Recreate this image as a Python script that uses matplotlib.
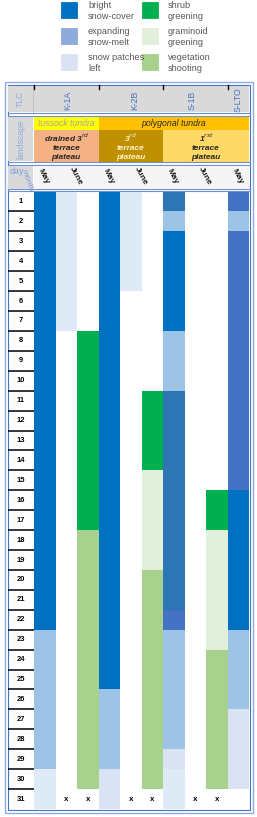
import matplotlib.pyplot as plt
from matplotlib.patches import Rectangle

# legend entries (label, colour)
legend_left = [("bright\nsnow-cover", "#0070C0"),
               ("expanding\nsnow-melt", "#8FAADC"),
               ("snow patches\nleft", "#DAE3F3")]
legend_right = [("shrub\ngreening", "#00B050"),
                ("graminoid\ngreening", "#E2EFDA"),
                ("vegetation\nshooting", "#A9D18E")]

# shades used in the bars
shade = {"snow": "#0070C0", "snow2": "#2E75B6", "snow3": "#4472C4",
         "melt": "#9DC3E6", "patch": "#DEEBF7", "patch2": "#DAE3F3",
         "shrub": "#00B050", "gram": "#E2EFDA", "veg": "#A9D18E"}

sites = ["K-1A", "K-2B", "S-1B", "S-LTO"]
site_cols = [(0, 3), (3, 6), (6, 9), (9, 10)]
month_labels = ["May", "June", "May", "June", "May", "June", "May"]
month_cols = [0, 1.5, 3, 4.5, 6, 7.5, 9]

# phases per column: (shade, first day, last day)
k1a_may = [("snow", 1, 22), ("melt", 23, 29), ("patch", 30, 31)]
k1a_june_a = [("patch", 1, 7)]
k1a_june_b = [("shrub", 8, 17), ("veg", 18, 30)]
k2b_may = [("snow", 1, 25), ("melt", 26, 29), ("patch2", 30, 31)]
k2b_june_a = [("patch", 1, 5)]
k2b_june_b = [("shrub", 11, 14), ("gram", 15, 19), ("veg", 20, 30)]
s1b_may = [("snow2", 1, 1), ("melt", 2, 2), ("snow", 3, 7), ("melt", 8, 10),
           ("snow2", 11, 21), ("snow3", 22, 22), ("melt", 23, 28),
           ("patch2", 29, 29), ("patch", 30, 31)]
s1b_june_a = []
s1b_june_b = [("shrub", 16, 17), ("gram", 18, 23), ("veg", 24, 30)]
slto_may = [("snow3", 1, 1), ("melt", 2, 2), ("snow3", 3, 15), ("snow", 16, 22),
            ("melt", 23, 26), ("patch2", 27, 30)]
columns = [k1a_may, k1a_june_a, k1a_june_b, k2b_may, k2b_june_a, k2b_june_b,
           s1b_may, s1b_june_a, s1b_june_b, slto_may]
no_data_cols = [1, 2, 4, 5, 7, 8]   # 'x' on day 31
days = list(range(1, 32))

W, H = 257, 817
fig = plt.figure(figsize=(W / 100, H / 100), dpi=100)
plt.rcParams['font.family'] = ['Liberation Sans', 'DejaVu Sans']

def add_px_axes(x0, y0, x1, y1):
    return fig.add_axes([x0 / W, 1 - y1 / H, (x1 - x0) / W, (y1 - y0) / H])

bg = add_px_axes(0, 0, W, H)
bg.set_xlim(0, W)
bg.set_ylim(H, 0)
bg.axis("off")

X0, X1 = 34, 249
CW = (X1 - X0) / 10.0
def cx(i):
    return X0 + CW * i

# legend
for j, (items, sx, tx) in enumerate([(legend_left, 61, 88), (legend_right, 142, 168)]):
    for k, (lab, col) in enumerate(items):
        y = 2 + 26 * k
        bg.add_patch(Rectangle((sx, y), 16, 16, facecolor=col,
                               edgecolor=col, lw=0.6))
        bg.text(tx, y - 1.5, lab, fontsize=6.6, color="#595959", va="top",
                ha="left", linespacing=1.3)

# outer frame
bg.add_patch(Rectangle((4.5, 82), 248, 731, fill=False, ec="#8FAADC", lw=1.0))
bg.add_patch(Rectangle((7.5, 85), 242, 725, fill=False, ec="#4472C4", lw=0.8))

# TLC row
bg.add_patch(Rectangle((8, 86), 241, 26, fc="#D9D9D9", ec="none"))
bg.plot([33, 33], [86, 112], color="#BFBFBF", lw=0.6)
bg.text(20.5, 99, "TLC", rotation=90, fontsize=6.2, color="#8FAADC",
        ha="center", va="center")
tlc_x = [68, 135, 192, 238]
for s, x in zip(sites, tlc_x):
    bg.text(x, 100, s, rotation=90, fontsize=6.2, color="#4472C4",
            ha="center", va="center")
for a, b in site_cols:
    bg.plot([cx(a), cx(a)], [85, 88.5], color="black", lw=1.0)

# landscape row
bg.add_patch(Rectangle((8, 117), 25, 44, fc="#D9D9D9", ec="none"))
bg.text(20.5, 139, "landscape", rotation=90, fontsize=6.2, color="#8FAADC",
        ha="center", va="center")
bg.add_patch(Rectangle((cx(0), 117), cx(3) - cx(0), 13, fc="#FFFF00", ec="none"))
bg.add_patch(Rectangle((cx(3), 117), cx(10) - cx(3), 13, fc="#FFC000", ec="none"))
bg.text((cx(0) + cx(3)) / 2, 123.5, "tussock tundra", fontsize=6.3,
        style="italic", color="#A6A6A6", ha="center", va="center")
bg.text((cx(3) + cx(10)) / 2, 123.5, "polygonal tundra", fontsize=6.3,
        style="italic", color="#262626", ha="center", va="center")
land = [(0, 3, "#F4B183", "drained 3$^{rd}$\nterrace\nplateau", "#262626"),
        (3, 6, "#BF9000", "3$^{rd}$\nterrace\nplateau", "#FFF2CC"),
        (6, 10, "#FFD966", "1$^{rst}$\nterrace\nplateau", "#262626")]
for a, b, fc, txt, tc in land:
    bg.add_patch(Rectangle((cx(a), 130), cx(b) - cx(a), 31.5, fc=fc, ec="none"))
    bg.text((cx(a) + cx(b)) / 2, 146, txt, fontsize=6.0, style="italic",
            weight="bold", color=tc, ha="center", va="center", linespacing=1.3)

# section separators
for y in [112.5, 116, 162, 164.5, 189, 191]:
    bg.plot([7.5, 249.5], [y, y], color="#6F8FD0", lw=0.8)

# day / month row
bg.add_patch(Rectangle((8, 165.5), 25, 23, fc="#D9D9D9", ec="none", zorder=3))
bg.add_patch(Rectangle((34, 165.5), 215, 23, fc="#F5F5F5", ec="none", zorder=3))
bg.text(9.5, 171, "day", fontsize=6.4, color="#7F9FD8", ha="left",
        va="center", zorder=4)
bg.text(27, 180.5, "month", fontsize=6.0, color="#7F9FD8", rotation=-70,
        ha="center", va="center", zorder=4)
for lab, c in zip(month_labels, month_cols):
    bg.text(cx(c + 0.5) - 1, 176.5, lab, fontsize=6.0, weight="bold",
            rotation=-62, ha="center", va="center", color="#1A1A1A", zorder=4)

# day labels
Y0, Y1 = 191.5, 809
dax = add_px_axes(8, Y0, 34, Y1)
dax.set_xlim(0, 1)
dax.set_ylim(31, 0)
dax.axis("off")
for d in days:
    dax.text(0.5, d - 0.5, str(d), fontsize=5.4, weight="bold",
             ha="center", va="center")
    if d > 1:
        dax.plot([0, 1], [d - 1, d - 1], color="black", lw=1.1)

# bars
ax = add_px_axes(X0, Y0, X1, Y1)
ax.set_xlim(-0.5, 9.5)
ax.set_ylim(31, 0)
ax.axis("off")
for i, segs in enumerate(columns):
    for name, first, last in segs:
        ax.bar(i, last - first + 1, bottom=first - 1, width=1.0,
               color=shade[name], linewidth=0)
for i in no_data_cols:
    ax.text(i, 30.5, "x", fontsize=5.8, weight="bold", ha="center", va="center")

fig.savefig("out.png", dpi=100)
